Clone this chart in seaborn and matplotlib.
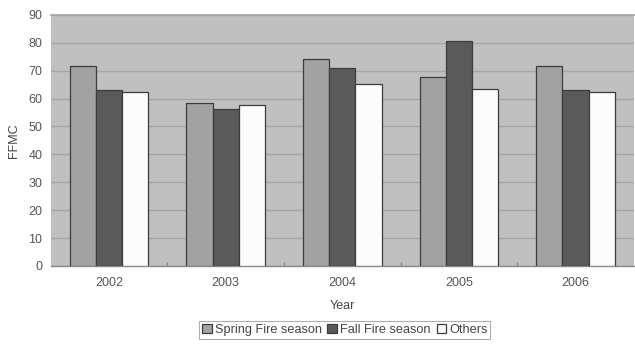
import matplotlib
matplotlib.use("Agg")
import matplotlib.pyplot as plt
import seaborn as sns
import pandas as pd

years = ["2002", "2003", "2004", "2005", "2006"]
spring = [71.8, 58.3, 74.3, 67.7, 71.8]
fall = [63.2, 56.2, 70.9, 80.6, 63.2]
others = [62.4, 57.7, 65.1, 63.5, 62.4]
series_names = ["Spring Fire season", "Fall Fire season", "Others"]
yticks = [0, 10, 20, 30, 40, 50, 60, 70, 80, 90]

df = pd.DataFrame({
    "Year": years * 3,
    "FFMC": spring + fall + others,
    "Season": [series_names[0]] * 5 + [series_names[1]] * 5 + [series_names[2]] * 5,
})

sns.set_theme(style="white")
plt.rcParams["font.family"] = ["Liberation Sans", "DejaVu Sans"]

fig = plt.figure(figsize=(6.35, 3.45), dpi=100)
ax = fig.add_axes([0.080, 0.229, 0.918, 0.728])
ax.set_facecolor("#c0c0c0")

palette = ["#a2a2a2", "#5a5a5a", "#fcfcfc"]
sns.barplot(data=df, x="Year", y="FFMC", hue="Season", palette=palette,
            width=0.675, gap=0, edgecolor="#3c3c3c", linewidth=0.9,
            saturation=1, ax=ax, zorder=3)

ax.set_ylim(0, 90)
ax.set_xlim(-0.5, 4.5)
ax.set_yticks(yticks)
ax.yaxis.grid(True, color="#a6a6a6", linewidth=1.0, zorder=0)
ax.set_axisbelow(True)

for side in ["left", "right"]:
    ax.spines[side].set_visible(False)
ax.spines["top"].set_color("#a6a6a6")
ax.spines["bottom"].set_color("#8a8a8a")
ax.spines["bottom"].set_linewidth(1.0)

# small minor ticks between the year groups
ax.set_xticks([0.5, 1.5, 2.5, 3.5], minor=True)
ax.tick_params(axis="x", which="minor", direction="in", length=3, color="#8a8a8a", bottom=True)
ax.tick_params(axis="x", which="major", length=0, pad=8, labelsize=9, labelcolor="#555555")
ax.tick_params(axis="y", length=0, pad=6, labelsize=9, labelcolor="#555555")

ax.set_xlabel("Year", fontsize=9, color="#444444", labelpad=8)
ax.set_ylabel("FFMC", fontsize=9, color="#444444", labelpad=6)

handles, labels = ax.get_legend_handles_labels()
ax.legend_.remove()
leg = fig.legend(handles, labels, loc="lower center", bbox_to_anchor=(0.543, 0.0),
                 ncol=3, fontsize=9.2, frameon=True, fancybox=False,
                 handlelength=0.75, handleheight=0.75, handletextpad=0.25,
                 columnspacing=0.45, borderpad=0.2, labelcolor="#444444")
leg.get_frame().set_edgecolor("#9a9a9a")
leg.get_frame().set_linewidth(0.8)

fig.savefig("out.png", dpi=100)
